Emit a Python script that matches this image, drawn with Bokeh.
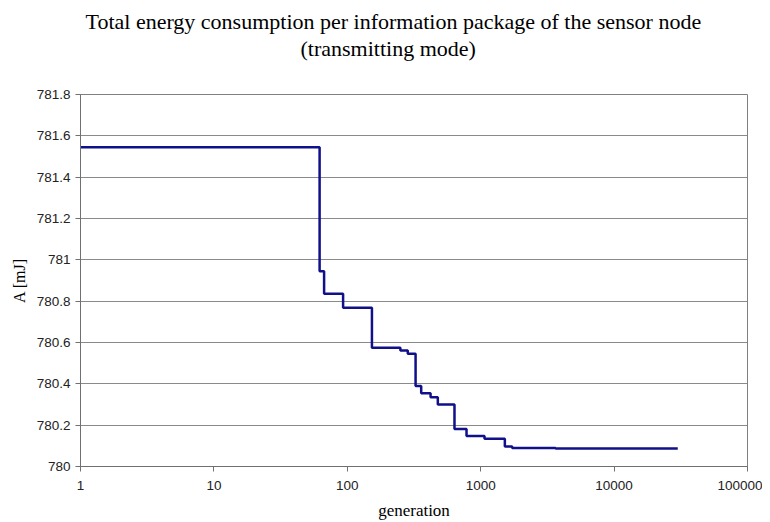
from bokeh.plotting import figure
from bokeh.models import FixedTicker, Title, Range1d
from bokeh.embed import file_html
from bokeh.resources import INLINE

# step data: generation at which value starts, energy [mJ]
generation = [1, 62, 67, 93, 153, 250, 284, 325, 358, 421, 477, 636, 783, 1068, 1517, 1722, 3640, 30000]
energy = [781.545, 780.945, 780.836, 780.768, 780.574, 780.561, 780.545, 780.39, 780.355, 780.335,
          780.30, 780.182, 780.148, 780.134, 780.097, 780.09, 780.087, 780.087]

y_ticks = [780, 780.2, 780.4, 780.6, 780.8, 781, 781.2, 781.4, 781.6, 781.8]
y_tick_labels = ["780", "780.2", "780.4", "780.6", "780.8", "781", "781.2", "781.4", "781.6", "781.8"]
x_ticks = [1, 10, 100, 1000, 10000, 100000]
x_tick_labels = ["1", "10", "100", "1000", "10000", "100000"]

p = figure(width=762, height=522, x_axis_type="log", output_backend="svg", toolbar_location=None,
           title=None,
           x_range=Range1d(1, 100000), y_range=Range1d(780, 781.8),
           min_border_left=80, min_border_right=15, min_border_top=94, min_border_bottom=56)

p.step(generation, energy, mode="after", line_color="#10108a", line_width=2.5)

serif = "Liberation Serif"
sans = "Liberation Sans"

spacer = Title(text=" ", align="center", text_font=serif, text_font_size="22px", standoff=7)
t2 = Title(text="(transmitting mode)", align="left", text_font=serif, text_font_size="22px",
           text_font_style="normal", text_color="black", standoff=0, offset=220)
t1 = Title(text="Total energy consumption per information package of the sensor node", align="left",
           text_font=serif, text_font_size="22px", text_font_style="normal", text_color="black",
           standoff=0, offset=5)
p.add_layout(spacer, "above")
p.add_layout(t2, "above")
p.add_layout(t1, "above")

p.yaxis.ticker = FixedTicker(ticks=y_ticks)
p.yaxis.major_label_overrides = {t: l for t, l in zip(y_ticks, y_tick_labels)}
p.xaxis.ticker = FixedTicker(ticks=x_ticks)
p.xaxis.major_label_overrides = {t: l for t, l in zip(x_ticks, x_tick_labels)}
p.xaxis.minor_tick_line_color = None
p.yaxis.minor_tick_line_color = None

for ax in (p.xaxis, p.yaxis):
    ax.major_label_text_font = sans
    ax.major_label_text_font_size = "13.5px"
    ax.major_label_text_color = "#222222"
    ax.axis_label_text_font = serif
    ax.axis_label_text_font_style = "normal"
    ax.axis_label_text_color = "black"
    ax.axis_line_color = "#707070"
    ax.major_tick_line_color = "#707070"
    ax.major_tick_in = 0
    ax.major_tick_out = 5

p.xaxis.major_label_standoff = 9
p.xaxis.axis_label = "generation"
p.xaxis.axis_label_text_font_size = "17px"
p.xaxis.axis_label_standoff = 8
p.yaxis.axis_label = "A [mJ]"
p.yaxis.axis_label_text_font_size = "16px"
p.yaxis.axis_label_standoff = 6

p.xgrid.grid_line_color = None
p.ygrid.grid_line_color = "#8a8a8a"
p.ygrid.grid_line_width = 1
p.outline_line_color = "#808080"
p.outline_line_alpha = 1
p.background_fill_color = "white"
p.border_fill_color = "white"

open("out.html", "w").write(file_html(p, INLINE))
